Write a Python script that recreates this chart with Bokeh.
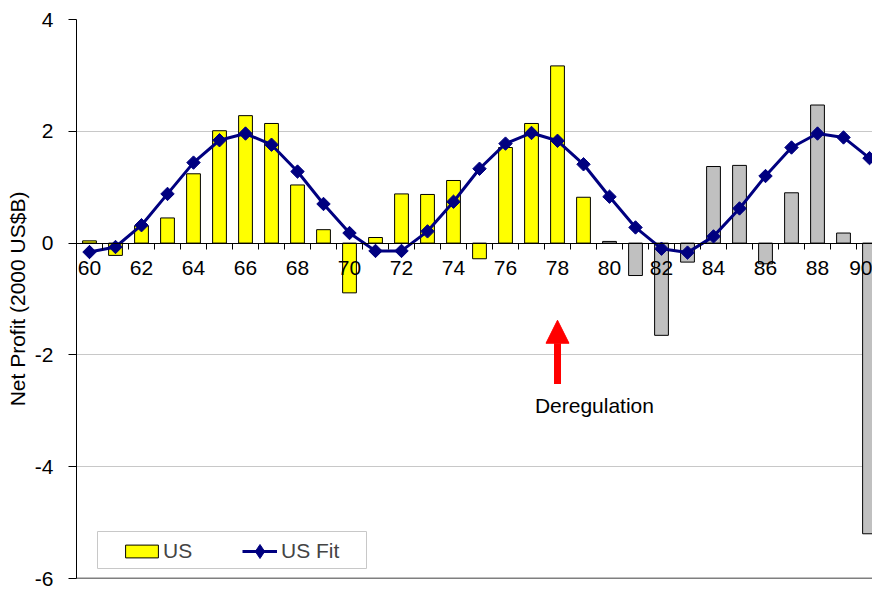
import numpy as np
from bokeh.plotting import figure
from bokeh.models import (ColumnDataSource, FixedTicker, Span, Arrow, NormalHead,
                          Legend, LegendItem, Label, BoxAnnotation)
from bokeh.embed import file_html
from bokeh.resources import INLINE

# ---------------- data ----------------
years = list(range(60, 91))
us_profit = [0.04, -0.22, 0.31, 0.45, 1.24, 2.01, 2.28, 2.14, 1.04, 0.24,
             -0.89, 0.10, 0.88, 0.87, 1.12, -0.28, 1.71, 2.14, 3.17, 0.82,
             0.03, -0.58, -1.65, -0.34, 1.37, 1.39, -0.37, 0.90, 2.47, 0.18,
             -5.20]
us_fit = [-0.16, -0.07, 0.32, 0.88, 1.44, 1.84, 1.96, 1.76, 1.28, 0.70,
          0.18, -0.14, -0.14, 0.21, 0.74, 1.33, 1.78, 1.97, 1.83, 1.41,
          0.83, 0.28, -0.10, -0.17, 0.12, 0.62, 1.20, 1.71, 1.96, 1.89,
          1.52]
post_dereg_from = 80          # bars drawn grey from this year on
dereg_year = 78
x_tick_labels = list(range(60, 91, 2))
y_ticks = [-6, -4, -2, 0, 2, 4]

FONT = "Liberation Sans"
FS = "21px"

pre = [i for i, y in enumerate(years) if y < post_dereg_from]
post = [i for i, y in enumerate(years) if y >= post_dereg_from]
src_pre = ColumnDataSource(dict(x=[years[i] for i in pre], top=[us_profit[i] for i in pre]))
src_post = ColumnDataSource(dict(x=[years[i] for i in post], top=[us_profit[i] for i in post]))
src_fit = ColumnDataSource(dict(x=years, y=us_fit))
src_leg = ColumnDataSource(dict(x=years[:1], y=us_fit[:1]))

p = figure(width=872, height=590, output_backend="svg", toolbar_location=None, tools="",
           x_range=(59.5, 90.115), y_range=(-6, 4),
           min_border_left=76, min_border_right=0, min_border_top=19, min_border_bottom=12)
p.outline_line_color = None
p.background_fill_color = "white"

# grid
p.xgrid.visible = False
p.ygrid.ticker = FixedTicker(ticks=y_ticks)
p.ygrid.grid_line_color = "#c8c8c8"
p.ygrid.grid_line_width = 1

# bars
bw = 0.53
r_pre = p.vbar(x="x", top="top", bottom=0, width=bw, source=src_pre,
               fill_color="#FFFF00", line_color="#000000", line_width=1)
p.vbar(x="x", top="top", bottom=0, width=bw, source=src_post,
       fill_color="#C0C0C0", line_color="#000000", line_width=1)

# fit
r_line = p.line(x="x", y="y", source=src_fit, line_color="#000080", line_width=3)
# marker used for the legend swatch (hidden beneath the first plotted marker)
r_legmark = p.scatter(x="x", y="y", source=src_leg, marker="diamond", size=13,
                      fill_color="#000080", line_color="#000080")
p.scatter(x="x", y="y", source=src_fit, marker="square", angle=np.pi / 4,
          size=9.5, fill_color="#000080", line_color="#000080")

# bottom frame line
p.add_layout(Span(location=-6, dimension="width", line_color="black", line_width=1.5))

# axes
xa = p.xaxis[0]
xa.fixed_location = 0
xa.ticker = FixedTicker(ticks=x_tick_labels,
                        minor_ticks=[y - 0.5 for y in years] + [years[-1] + 0.5])
xa.major_label_overrides = {t: str(t) for t in x_tick_labels}
xa.major_tick_out = 0
xa.major_tick_in = 0
xa.minor_tick_out = 6
xa.minor_tick_in = 0
xa.minor_tick_line_color = "black"
xa.axis_line_color = "black"
xa.axis_line_width = 1
xa.major_label_standoff = 12
xa.major_label_text_font = FONT
xa.major_label_text_font_size = FS
xa.major_label_text_color = "black"

ya = p.yaxis[0]
ya.ticker = FixedTicker(ticks=y_ticks)
ya.major_label_overrides = {t: str(t) for t in y_ticks}
ya.major_tick_out = 8
ya.major_tick_in = 0
ya.minor_tick_out = 0
ya.minor_tick_in = 0
ya.major_label_standoff = 15
ya.axis_line_color = "black"
ya.major_label_text_font = FONT
ya.major_label_text_font_size = FS
ya.major_label_text_color = "black"
ya.axis_label = "Net Profit (2000 US$B)"
ya.axis_label_text_font = FONT
ya.axis_label_text_font_size = FS
ya.axis_label_text_font_style = "normal"
ya.axis_label_text_color = "black"
ya.axis_label_standoff = 3

# deregulation annotation
p.add_layout(Arrow(x_start=dereg_year, y_start=-2.52, x_end=dereg_year, y_end=-1.38,
                   line_color="#FF0000", line_width=7,
                   end=NormalHead(size=23, fill_color="#FF0000", line_color="#FF0000")))
p.add_layout(Label(x=79.42, y=-2.91, text="Deregulation", text_align="center",
                   text_baseline="middle", text_font=FONT, text_font_size=FS,
                   text_color="black"))

# legend frame (screen units relative to the plot frame)
p.add_layout(BoxAnnotation(left=21, right=290, bottom=10, top=47,
                           left_units="screen", right_units="screen",
                           bottom_units="screen", top_units="screen",
                           fill_color="white", fill_alpha=1,
                           line_color="#c8c8c8", line_alpha=1, line_width=1))

common = dict(orientation="horizontal", padding=7, margin=0,
              label_text_font=FONT, label_text_font_size=FS,
              border_line_color=None, background_fill_alpha=0)
leg_a = Legend(items=[LegendItem(label="US", renderers=[r_pre])],
               location=(45, 15), glyph_width=41, glyph_height=16, label_standoff=1,
               **common)
leg_b = Legend(items=[LegendItem(label="US Fit", renderers=[r_line, r_legmark])],
               location=(166, 7), glyph_width=35, glyph_height=40, label_standoff=4,
               **common)
p.add_layout(leg_a, "center")
p.add_layout(leg_b, "center")

open("out.html", "w").write(file_html(p, INLINE))
